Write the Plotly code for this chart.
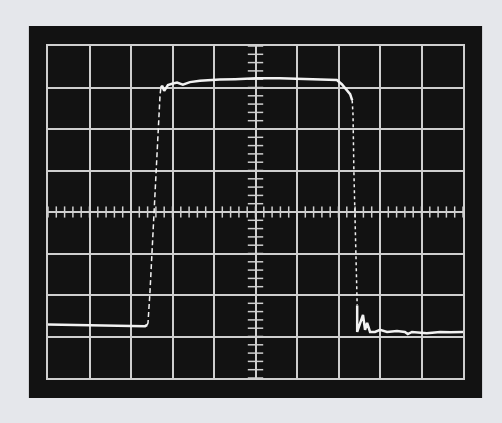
import plotly.graph_objects as go

# Oscilloscope trace, in screen divisions (10 x 8 graticule)
low_t = [0.00, 0.53, 1.25, 1.98, 2.34, 2.39]
low_v = [1.29, 1.28, 1.27, 1.25, 1.25, 1.28]

rise_t = [2.39, 2.41, 2.46, 2.51, 2.55, 2.60, 2.65, 2.70, 2.72]
rise_v = [1.28, 1.33, 2.12, 3.08, 4.02, 5.01, 6.10, 6.82, 6.99]

top_t = [2.72, 2.75, 2.80, 2.89, 2.99, 3.11, 3.25, 3.42, 3.66, 3.90, 4.14, 4.51,
         5.01, 5.59, 6.07, 6.55, 6.96, 7.08, 7.18, 7.28, 7.33]
top_v = [6.99, 7.04, 6.92, 7.06, 7.09, 7.12, 7.07, 7.13, 7.16, 7.18, 7.19, 7.20,
         7.22, 7.22, 7.20, 7.19, 7.18, 7.08, 6.96, 6.84, 6.69]

fall_t = [7.33, 7.35, 7.37, 7.40, 7.42, 7.45]
fall_v = [6.69, 6.34, 5.01, 4.00, 2.84, 1.75]

ring_t = [7.45, 7.45, 7.59, 7.64, 7.69, 7.76, 7.88, 8.00, 8.17, 8.41, 8.60, 8.67,
          8.77, 8.92, 9.13, 9.45, 9.69, 10.00]
ring_v = [1.75, 1.11, 1.52, 1.16, 1.33, 1.11, 1.11, 1.16, 1.11, 1.13, 1.11, 1.06,
          1.11, 1.10, 1.08, 1.11, 1.10, 1.11]

N_X_DIV = 10
N_Y_DIV = 8
SUBDIV = 5

trace_col = "#f2f2f2"
grid_col = "#cfcfcf"

fig = go.Figure()

# center-axis minor ticks
hx = [i / SUBDIV for i in range(N_X_DIV * SUBDIV + 1)]
vy = [i / SUBDIV for i in range(N_Y_DIV * SUBDIV + 1)]
fig.add_trace(go.Scatter(x=hx, y=[N_Y_DIV / 2] * len(hx), mode="markers",
                         marker=dict(symbol="line-ns", size=8,
                                     line=dict(color=grid_col, width=1.5)),
                         hoverinfo="skip", showlegend=False))
fig.add_trace(go.Scatter(x=[N_X_DIV / 2] * len(vy), y=vy, mode="markers",
                         marker=dict(symbol="line-ew", size=11,
                                     line=dict(color=grid_col, width=1.5)),
                         hoverinfo="skip", showlegend=False))

solid = dict(color=trace_col, width=2.5)
fig.add_trace(go.Scatter(x=low_t, y=low_v, mode="lines", line=solid,
                         hoverinfo="skip", showlegend=False))
fig.add_trace(go.Scatter(x=rise_t, y=rise_v, mode="lines",
                         line=dict(color=trace_col, width=1.5, dash="5px,3px"),
                         hoverinfo="skip", showlegend=False))
fig.add_trace(go.Scatter(x=top_t, y=top_v, mode="lines", line=solid,
                         hoverinfo="skip", showlegend=False))
fig.add_trace(go.Scatter(x=fall_t, y=fall_v, mode="lines",
                         line=dict(color=trace_col, width=1.5, dash="dot"),
                         hoverinfo="skip", showlegend=False))
fig.add_trace(go.Scatter(x=ring_t, y=ring_v, mode="lines", line=solid,
                         hoverinfo="skip", showlegend=False))

axis_common = dict(showticklabels=False, ticks="", zeroline=False,
                   showgrid=True, gridcolor=grid_col, gridwidth=1.6,
                   showline=True, mirror=True, linecolor=grid_col, linewidth=2,
                   fixedrange=True, dtick=1)

fig.update_layout(
    width=502, height=423,
    margin=dict(l=48, r=39, t=46, b=45),
    paper_bgcolor="#e5e7eb",
    plot_bgcolor="#121212",
    xaxis=dict(range=[0, N_X_DIV], **axis_common),
    yaxis=dict(range=[0, N_Y_DIV], **axis_common),
    shapes=[dict(type="rect", xref="paper", yref="paper",
                 x0=-0.046, x1=1.046, y0=-0.060, y1=1.060,
                 fillcolor="#121212", line=dict(width=0), layer="below")],
)

fig.write_html("out.html", config={"displayModeBar": False},
               post_script="document.body.style.margin='0';")
